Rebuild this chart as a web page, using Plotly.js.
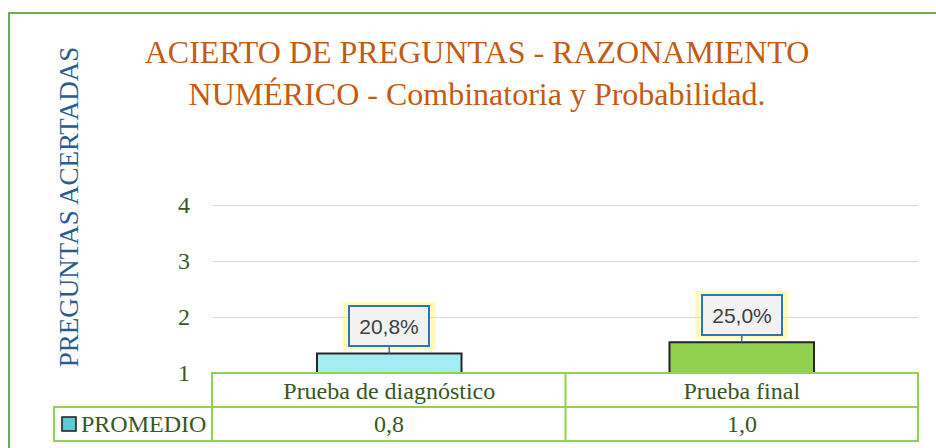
<!DOCTYPE html>
<html><head><meta charset="utf-8">
<script src="https://cdn.plot.ly/plotly-3.0.1.min.js"></script>
<style>html,body{margin:0;padding:0;background:#fff}#chart{width:936px;height:448px}</style>
</head><body><div id="chart"></div>
<script>
// ---- data ----
const categories = ["Prueba de diagnóstico", "Prueba final"];
const seriesName = "PROMEDIO";
const promedio = [0.8, 1.0];
const percentLabels = [20.8, 25.0];
const yTicks = [1, 2, 3, 4];
const titleText = "ACIERTO DE PREGUNTAS - RAZONAMIENTO<br>NUMÉRICO - Combinatoria y Probabilidad.";
const yTitleText = "PREGUNTAS ACERTADAS";

// ---- styles / geometry ----
const barColors = ["#A4ECF4", "#92D050"];
const W = 936, H = 448, L = 213, R = 918, T = 41, B = 373;
const PXU = 56; // pixels per unit
const px = p => (p - L) / (R - L);
const py = p => (B - p) / (B - T);
const fmt = v => v.toFixed(1).replace('.', ',');
const serif = "Liberation Serif, Times New Roman, serif";
const green = "#385723";
const tableLine = "#92D050";
const span = (B - T) / PXU;

const trace = {
  type: 'bar', x: categories, y: promedio, yaxis: 'y2', name: seriesName,
  width: 0.41, showlegend: false, hoverinfo: 'skip',
  marker: {color: barColors, line: {color: '#262626', width: 2}}
};
// keeps the tick (x, y) subplot registered so its axis is drawn; draws nothing
const axisHolder = {type: 'scatter', x: categories, y: promedio, yaxis: 'y',
  visible: 'legendonly', showlegend: false, hoverinfo: 'skip', name: seriesName};

const annotations = [];
const shapes = [];
categories.forEach((c, i) => {
  shapes.push({type: 'rect', xref: 'x', yref: 'y2', xsizemode: 'pixel', ysizemode: 'pixel',
    xanchor: i, yanchor: promedio[i], x0: -44, x1: 44, y0: 6, y1: 49, layer: 'above',
    line: {color: 'rgba(255,245,110,0.5)', width: 5}, fillcolor: 'rgba(0,0,0,0)'});
  annotations.push({x: c, y: promedio[i], xref: 'x', yref: 'y2',
    text: fmt(percentLabels[i]) + '%', showarrow: true, ax: 0, ay: -27,
    arrowhead: 0, arrowwidth: 1.5, arrowcolor: '#2E75B6',
    bgcolor: '#F2F2F2', bordercolor: '#2E75B6', borderwidth: 2, borderpad: 3,
    width: 72, height: 32,
    font: {family: 'Liberation Sans, Arial, sans-serif', size: 21, color: '#404040'}});
  annotations.push({x: c, xref: 'x', y: py(424), yref: 'paper', yanchor: 'middle',
    text: fmt(promedio[i]), showarrow: false,
    font: {family: serif, size: 24, color: green}});
});
annotations.push({x: px(79), xref: 'paper', xanchor: 'left', y: py(424), yref: 'paper',
  yanchor: 'middle', text: seriesName, showarrow: false,
  font: {family: serif, size: 24, color: green}});

// outer border
shapes.push({type: 'rect', xref: 'paper', yref: 'paper', x0: px(9), x1: px(980), y0: py(13), y1: py(490),
  line: {color: '#70AD47', width: 2}, fillcolor: 'rgba(0,0,0,0)'});
// data table
shapes.push({type: 'rect', xref: 'paper', yref: 'paper', x0: px(212), x1: px(918), y0: py(373), y1: py(407),
  line: {color: tableLine, width: 2}, fillcolor: 'rgba(0,0,0,0)'});
shapes.push({type: 'rect', xref: 'paper', yref: 'paper', x0: px(54), x1: px(918), y0: py(407), y1: py(441),
  line: {color: tableLine, width: 2}, fillcolor: 'rgba(0,0,0,0)'});
shapes.push({type: 'line', xref: 'x', yref: 'paper', x0: 0.5, x1: 0.5, y0: py(373), y1: py(441),
  line: {color: tableLine, width: 2}});
shapes.push({type: 'line', xref: 'paper', yref: 'paper', x0: px(212), x1: px(212), y0: py(407), y1: py(441),
  line: {color: tableLine, width: 2}});
// legend key
shapes.push({type: 'rect', xref: 'paper', yref: 'paper', x0: px(62), x1: px(76), y0: py(431), y1: py(417),
  line: {color: '#1A1A1A', width: 1.5}, fillcolor: '#5CC8D8'});

const layout = {
  width: W, height: H, autosize: false,
  margin: {l: L, r: W - R, t: T, b: H - B, pad: 0},
  paper_bgcolor: '#fff', plot_bgcolor: 'rgba(0,0,0,0)',
  showlegend: false,
  title: {text: titleText, xref: 'container', x: 477 / W, xanchor: 'center',
    yref: 'container', y: 1 - 63 / H, yanchor: 'top',
    font: {family: serif, size: 32, color: '#C55A11'}},
  xaxis: {type: 'category', range: [-0.5, 1.5], showgrid: false, zeroline: false, showline: false,
    ticks: '', ticklabelstandoff: 1, tickfont: {family: serif, size: 24, color: green}},
  yaxis: {range: [1, 1 + span], tickvals: yTicks, showgrid: true, gridcolor: '#D9D9D9', gridwidth: 1,
    zeroline: false, showline: false, ticks: '', ticklabelstandoff: 22,
    tickfont: {family: serif, size: 24, color: green},
    title: {text: yTitleText, standoff: 91, font: {family: serif, size: 27, color: '#2B5C8F'}}},
  yaxis2: {overlaying: 'y', range: [0.45, 0.45 + span], visible: false, showgrid: false, zeroline: false},
  annotations: annotations,
  shapes: shapes
};

Plotly.newPlot('chart', [axisHolder, trace], layout, {displayModeBar: false, staticPlot: true});
</script>
</body></html>
